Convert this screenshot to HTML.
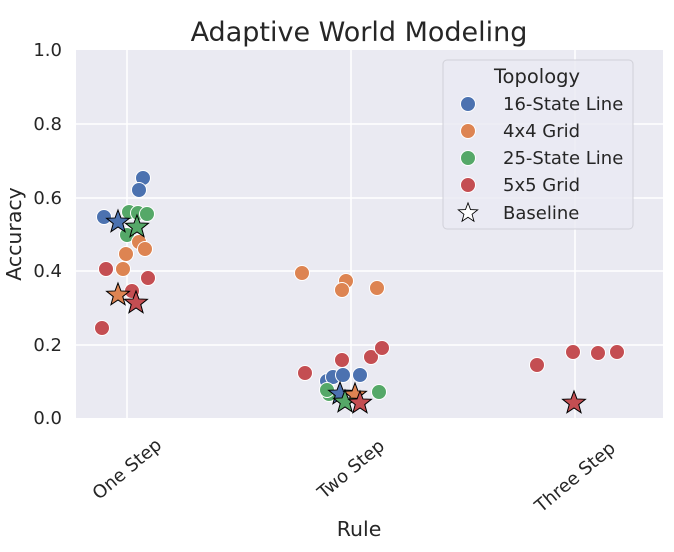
<!DOCTYPE html>
<html><head><meta charset="utf-8"><style>body{margin:0;background:#fff}svg{display:block;font-family:"DejaVu Sans","Liberation Sans",sans-serif}</style></head><body>
<svg width="674" height="552" viewBox="0 0 674 552">
<defs>
<polygon id="st" points="0,-12 2.94,-4.05 11.41,-3.71 4.76,1.55 7.05,9.71 0,5 -7.05,9.71 -4.76,1.55 -11.41,-3.71 -2.94,-4.05" stroke="#000" stroke-width="1" stroke-linejoin="miter"/>
</defs>
<rect x="76" y="50" width="587" height="368" fill="#eaeaf2"/>
<g stroke="#fff" stroke-width="1.5">
<line x1="76" x2="663" y1="345" y2="345"/><line x1="76" x2="663" y1="271" y2="271"/><line x1="76" x2="663" y1="198" y2="198"/><line x1="76" x2="663" y1="124" y2="124"/>
<line x1="127" x2="127" y1="50" y2="418"/><line x1="351" x2="351" y1="50" y2="418"/><line x1="575" x2="575" y1="50" y2="418"/>
</g>
<g stroke="#fff" stroke-width="1" >
<circle cx="143" cy="178" r="7.5" fill="#4c72b0"/><circle cx="139" cy="190" r="7.5" fill="#4c72b0"/><circle cx="104" cy="217" r="7.5" fill="#4c72b0"/>
<circle cx="129" cy="212" r="7.5" fill="#55a868"/><circle cx="138" cy="213" r="7.5" fill="#55a868"/><circle cx="147" cy="214" r="7.5" fill="#55a868"/><circle cx="127" cy="235" r="7.5" fill="#55a868"/>
<circle cx="139" cy="242" r="7.5" fill="#dd8452"/><circle cx="145" cy="249" r="7.5" fill="#dd8452"/><circle cx="126" cy="254" r="7.5" fill="#dd8452"/><circle cx="123" cy="269" r="7.5" fill="#dd8452"/>
<circle cx="106" cy="269" r="7.5" fill="#c44e52"/><circle cx="148" cy="278" r="7.5" fill="#c44e52"/><circle cx="132" cy="291" r="7.5" fill="#c44e52"/><circle cx="102" cy="328" r="7.5" fill="#c44e52"/>
<circle cx="302" cy="273" r="7.5" fill="#dd8452"/><circle cx="346" cy="281" r="7.5" fill="#dd8452"/><circle cx="342" cy="290" r="7.5" fill="#dd8452"/><circle cx="377" cy="288" r="7.5" fill="#dd8452"/>
<circle cx="342" cy="360" r="7.5" fill="#c44e52"/><circle cx="371" cy="357" r="7.5" fill="#c44e52"/><circle cx="382" cy="348" r="7.5" fill="#c44e52"/><circle cx="305" cy="373" r="7.5" fill="#c44e52"/>
<circle cx="327" cy="381" r="7.5" fill="#4c72b0"/><circle cx="333" cy="377" r="7.5" fill="#4c72b0"/><circle cx="343" cy="375" r="7.5" fill="#4c72b0"/><circle cx="360" cy="375" r="7.5" fill="#4c72b0"/>
<circle cx="329" cy="394" r="7.5" fill="#55a868"/><circle cx="327" cy="390" r="7.5" fill="#55a868"/><circle cx="379" cy="392" r="7.5" fill="#55a868"/>
<circle cx="537" cy="365" r="7.5" fill="#c44e52"/><circle cx="573" cy="352" r="7.5" fill="#c44e52"/><circle cx="598" cy="353" r="7.5" fill="#c44e52"/><circle cx="617" cy="352" r="7.5" fill="#c44e52"/>
</g>
<use href="#st" x="118" y="222" fill="#4c72b0"/><use href="#st" x="137" y="227" fill="#55a868"/>
<use href="#st" x="118" y="295" fill="#dd8452"/><use href="#st" x="136" y="303" fill="#c44e52"/>
<use href="#st" x="340" y="394" fill="#4c72b0"/><use href="#st" x="355" y="395" fill="#dd8452"/>
<use href="#st" x="345" y="402" fill="#55a868"/><use href="#st" x="360" y="403" fill="#c44e52"/>
<use href="#st" x="574" y="403" fill="#c44e52"/>
<g font-size="18" fill="#262626" text-anchor="end">
<text x="62" y="424">0.0</text><text x="62" y="351">0.2</text><text x="62" y="277">0.4</text><text x="62" y="204">0.6</text><text x="62" y="130">0.8</text><text x="62" y="56">1.0</text>
</g>
<g font-size="18" fill="#262626" text-anchor="middle">
<text transform="translate(127,469) rotate(-40)" dy="6">One Step</text>
<text transform="translate(351,469) rotate(-40)" dy="6">Two Step</text>
<text transform="translate(575,477) rotate(-40)" dy="6">Three Step</text>
</g>
<text x="359" y="536" font-size="20.5" fill="#262626" text-anchor="middle">Rule</text>
<text transform="translate(21,234) rotate(-90)" font-size="20.5" fill="#262626" text-anchor="middle">Accuracy</text>
<text x="359" y="41" font-size="27" fill="#262626" text-anchor="middle">Adaptive World Modeling</text>
<rect x="443" y="60" width="190" height="169" rx="4" fill="#eaeaf2" fill-opacity="0.8" stroke="#d0d0d8"/>
<text x="537" y="83" font-size="19.5" fill="#262626" text-anchor="middle">Topology</text>
<g stroke="#fff" stroke-width="1">
<circle cx="468" cy="104" r="7.5" fill="#4c72b0"/><circle cx="468" cy="131" r="7.5" fill="#dd8452"/><circle cx="468" cy="158" r="7.5" fill="#55a868"/><circle cx="468" cy="185" r="7.5" fill="#c44e52"/>
</g>
<g transform="translate(468,213) scale(0.85)"><use href="#st" fill="#fff"/></g>
<g font-size="18" fill="#262626">
<text x="503" y="110">16-State Line</text><text x="503" y="137">4x4 Grid</text><text x="503" y="164">25-State Line</text><text x="503" y="191">5x5 Grid</text><text x="503" y="219">Baseline</text>
</g>
</svg>
</body></html>
